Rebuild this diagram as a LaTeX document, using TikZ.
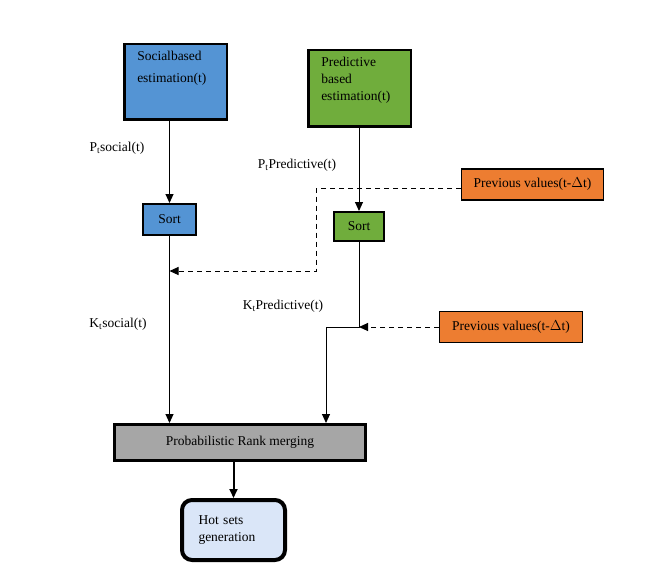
\documentclass[tikz,border=0pt]{standalone}
\usepackage{fontspec}
\setmainfont{Liberation Serif}
\usetikzlibrary{arrows.meta}

\definecolor{socialblue}{RGB}{84,148,212}
\definecolor{predgreen}{RGB}{112,173,60}
\definecolor{prevorange}{RGB}{237,125,49}
\definecolor{mergegray}{RGB}{166,166,166}
\definecolor{hotblue}{RGB}{218,230,248}

\begin{document}
\begin{tikzpicture}[x=1pt,y=-1pt,>={Triangle[length=9pt,width=8pt]},
  line width=1pt,font=\fontsize{13.5}{17}\selectfont]
  \tikzstyle{estbox}=[draw,line width=2.5pt,inner xsep=13pt,inner ysep=7pt]
  \tikzstyle{sortbox}=[draw,line width=1.8pt,inner sep=0pt]
  \tikzstyle{prevbox}=[draw,line width=1.3pt,fill=prevorange,inner sep=0pt,
    minimum height=31pt]
  \tikzstyle{feed}=[->,dash pattern=on 5pt off 4pt]

  \useasboundingbox (0,0) rectangle (650,583);

  \node[estbox,fill=socialblue] (social) at (175.5,82)
    {\parbox[t][61.5pt][t]{76.5pt}{Socialbased\\[5pt]estimation(t)}};
  \node[estbox,fill=predgreen]  (pred)   at (359.5,88.5)
    {\parbox[t][62.5pt][t]{76.5pt}{Predictive\\based\\estimation(t)}};

  \node[sortbox,fill=socialblue,minimum width=53.2pt,minimum height=31.2pt]
    (sortS) at (169.5,219.5) {Sort};
  \node[sortbox,fill=predgreen,minimum width=50.2pt,minimum height=29.2pt]
    (sortP) at (359,226.5) {Sort};

  \node[prevbox,minimum width=141.7pt] (prev1) at (532.5,184.5)
    {Previous values(t-$\Delta$t)};
  \node[prevbox,minimum width=142.7pt] (prev2) at (511,327)
    {Previous values(t-$\Delta$t)};

  \node[draw,line width=3pt,fill=mergegray,minimum width=251pt,
    minimum height=36pt] (rank) at (240,442.5) {Probabilistic Rank merging};
  \node[draw,line width=4pt,fill=hotblue,rounded corners=10pt,
    minimum width=103pt,minimum height=60pt,text width=70pt,align=left]
    (hot) at (233.5,530) {Hot sets\\generation};

  \node (psocial) at (117,148) {P\textsubscript{t}social(t)};
  \node (ppred)   at (297,165) {P\textsubscript{t}Predictive(t)};
  \node (ksocial) at (118,324) {K\textsubscript{t}social(t)};
  \node (kpred)   at (283,306) {K\textsubscript{t}Predictive(t)};

  \coordinate (join)   at (sortP.south |- prev2.west);
  \coordinate (mergeR) at (326,423);
  \coordinate (turn)   at (316,271);

  \draw[->] (social.south -| sortS.north) -- (sortS.north);
  \draw[->] (pred.south -| sortP.north) -- (sortP.north);
  \draw[->] (sortS.south) -- (sortS.south |- rank.north);
  \draw[->] (sortP.south) -- (join) -| (mergeR);
  \draw[->,line width=2pt] (rank.south -| hot.north) -- (hot.north);

  \draw[feed] ([yshift=-4pt]prev1.west) -| (turn) -- (turn -| sortS.south);
  \draw[feed] (prev2.west) -- (join);
\end{tikzpicture}
\end{document}
